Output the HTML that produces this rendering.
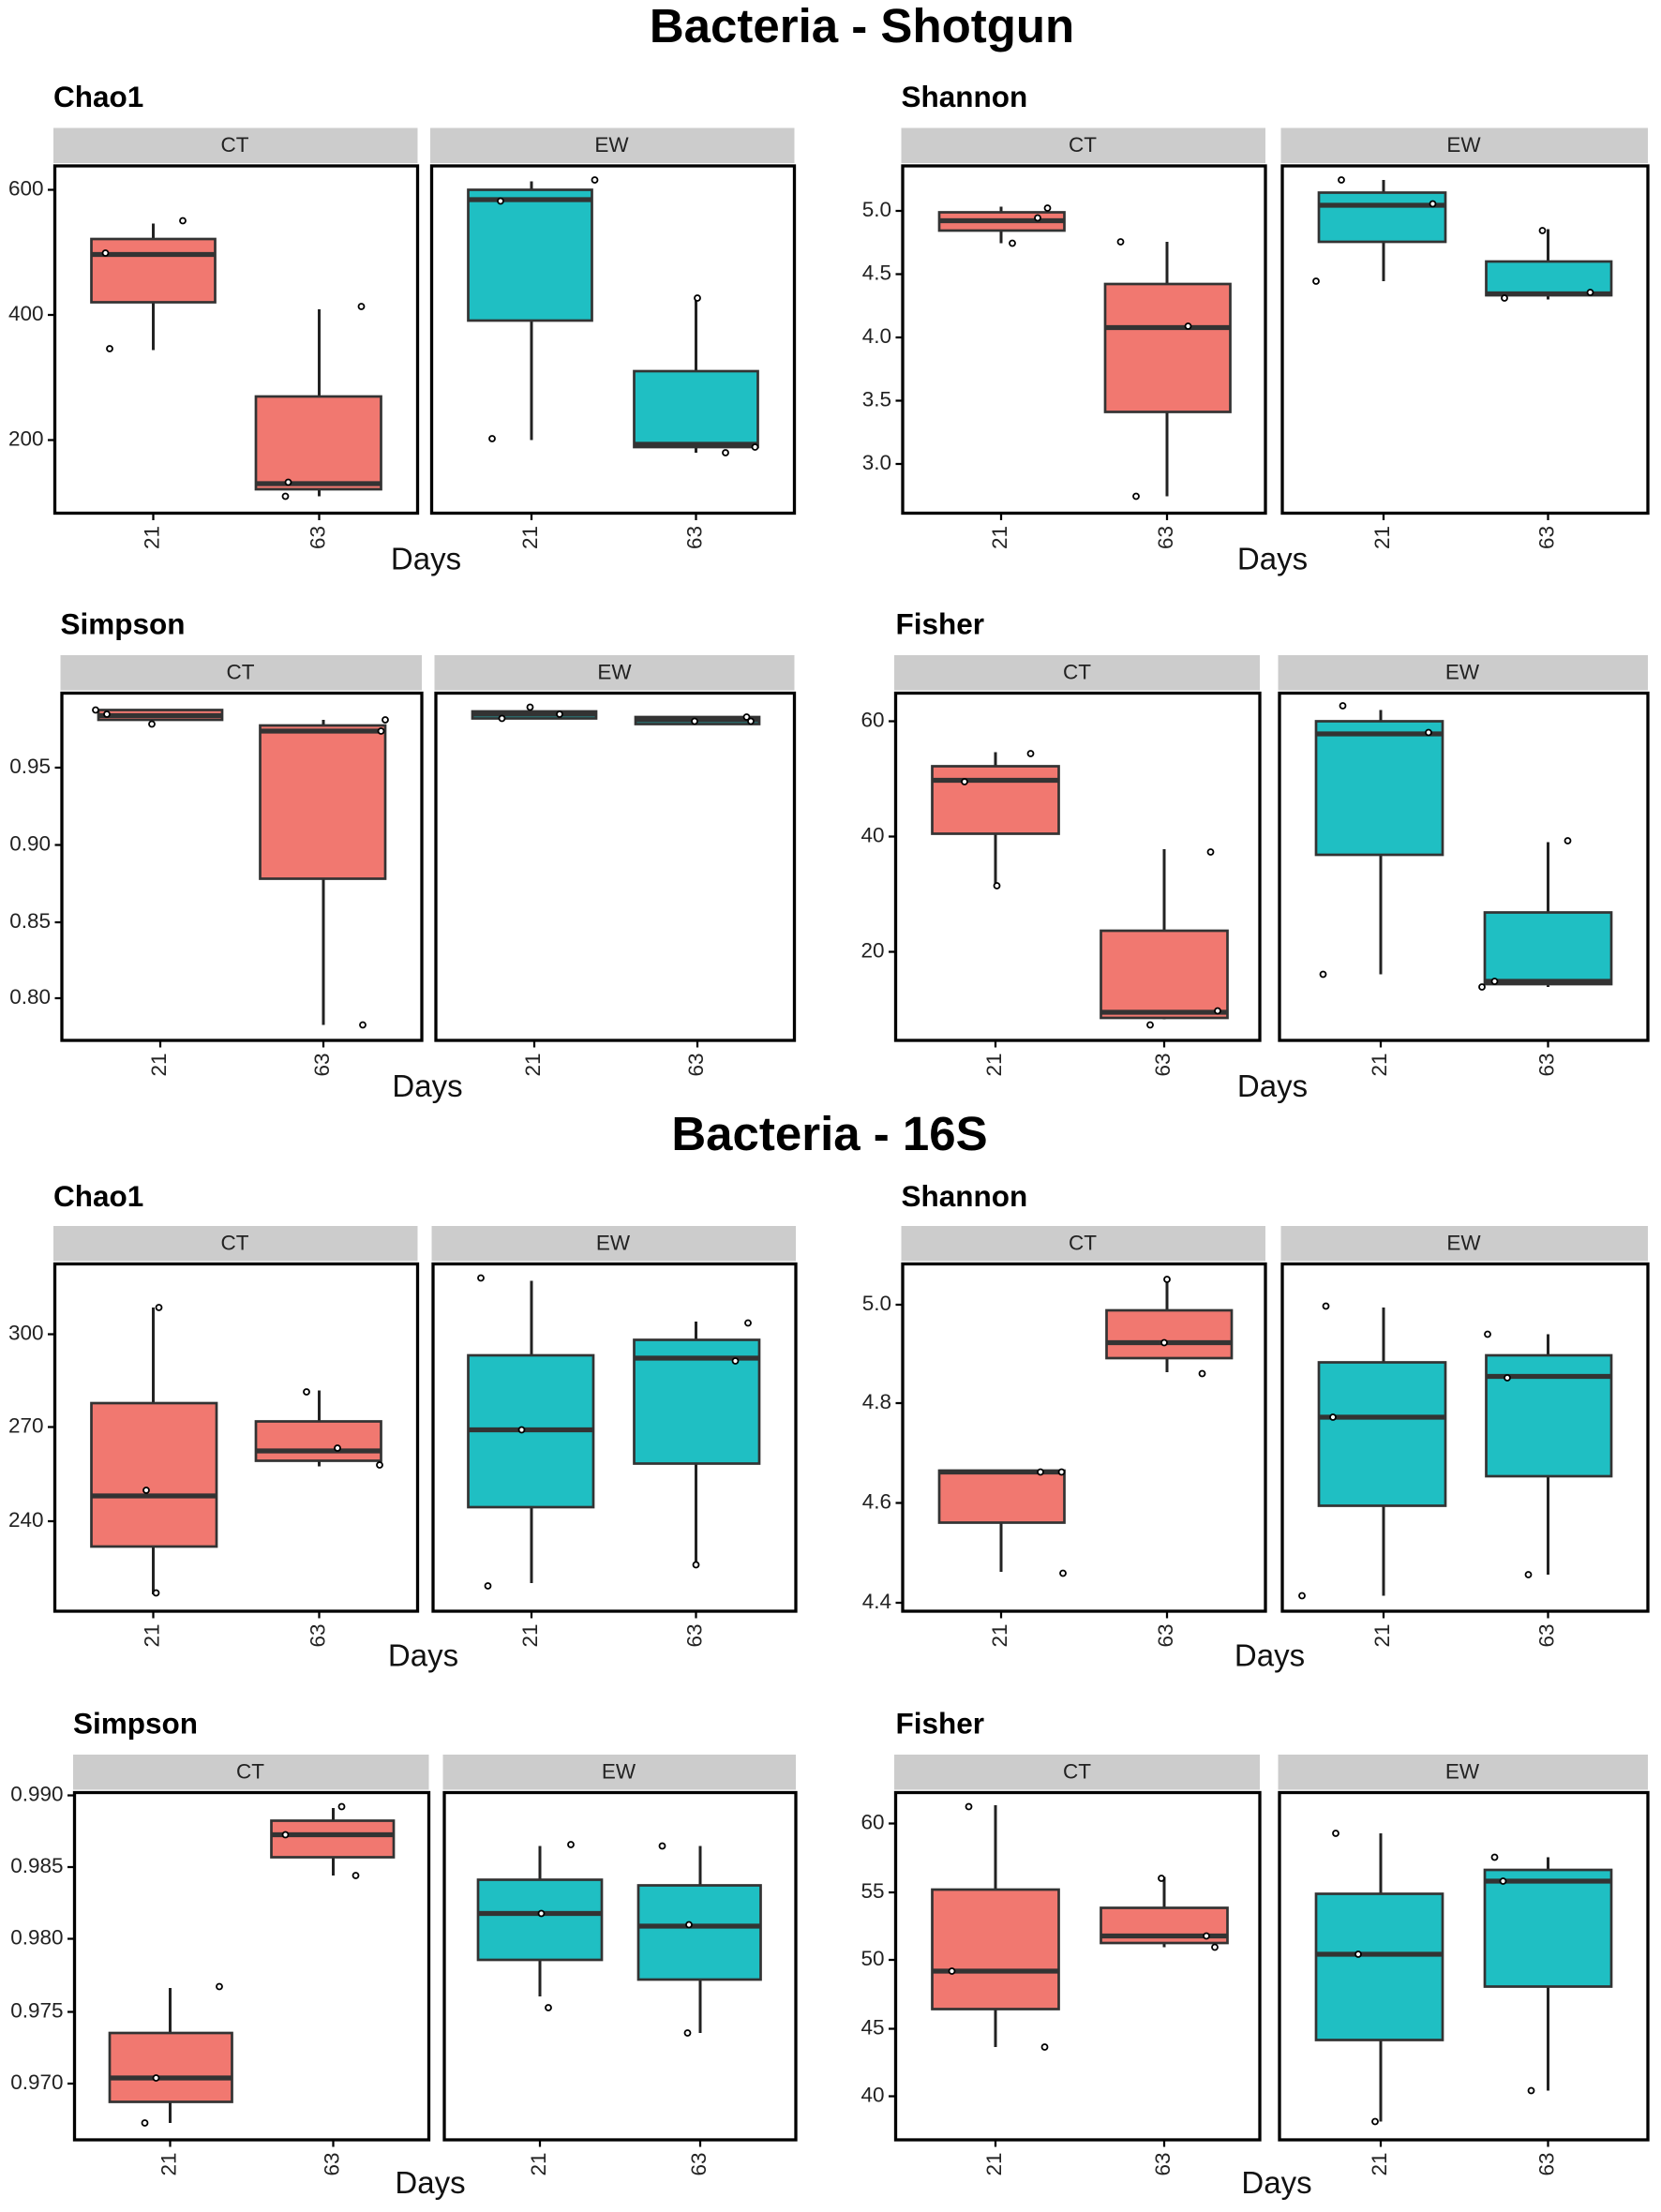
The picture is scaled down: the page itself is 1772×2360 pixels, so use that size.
<!DOCTYPE html>
<html><head><meta charset="utf-8"><style>
html,body{margin:0;padding:0;background:#fff}
svg{display:block}
text{font-family:"Liberation Sans",sans-serif}
.yl{font-size:15px;fill:#222;text-anchor:end;dominant-baseline:middle}
.xl{font-size:15px;fill:#222;text-anchor:end;dominant-baseline:middle}
.st{font-size:15px;fill:#222;text-anchor:middle;dominant-baseline:middle}
.pt{font-size:21px;font-weight:bold;fill:#000}
.dy{font-size:22px;fill:#111;text-anchor:middle}
.tt{font-size:34px;font-weight:bold;fill:#000;text-anchor:middle}
.fr{fill:none;stroke:#000;stroke-width:2.2}
.sp{fill:#cccccc}
.w{stroke:#222;stroke-width:2}
.r{fill:#F17870;stroke:#333;stroke-width:1.8}
.c{fill:#1FBFC3;stroke:#333;stroke-width:1.8}
.m{stroke:#333;stroke-width:3.5}
.p{fill:#fff;stroke:#000;stroke-width:1.2}
.tk{stroke:#000;stroke-width:1.5}
</style></head><body>
<svg width="1772" height="2360" viewBox="0 0 1181.33 1573.33" xmlns="http://www.w3.org/2000/svg">
<text class="tt" x="613" y="30">Bacteria - Shotgun</text>
<text class="tt" x="590" y="818">Bacteria - 16S</text>

<!-- ===== Shotgun Chao1 ===== -->
<text class="pt" x="38" y="76">Chao1</text>
<rect class="sp" x="38" y="91" width="259" height="25"/><text class="st" x="167" y="104">CT</text>
<rect class="sp" x="306" y="91" width="259" height="25"/><text class="st" x="435" y="104">EW</text>
<line class="w" x1="109" y1="159" x2="109" y2="249"/><rect class="r" x="65" y="170" width="88" height="45"/><line class="m" x1="65" y1="181" x2="153" y2="181"/>
<circle class="p" cx="75" cy="180" r="2"/><circle class="p" cx="130" cy="157" r="2"/><circle class="p" cx="78" cy="248" r="2"/>
<line class="w" x1="227" y1="220" x2="227" y2="353"/><rect class="r" x="182" y="282" width="89" height="66"/><line class="m" x1="182" y1="344" x2="271" y2="344"/>
<circle class="p" cx="257" cy="218" r="2"/><circle class="p" cx="205" cy="343" r="2"/><circle class="p" cx="203" cy="353" r="2"/>
<line class="w" x1="378" y1="129" x2="378" y2="313"/><rect class="c" x="333" y="135" width="88" height="93"/><line class="m" x1="333" y1="142" x2="421" y2="142"/>
<circle class="p" cx="356" cy="143" r="2"/><circle class="p" cx="423" cy="128" r="2"/><circle class="p" cx="350" cy="312" r="2"/>
<line class="w" x1="495" y1="211" x2="495" y2="322"/><rect class="c" x="451" y="264" width="88" height="54"/><line class="m" x1="451" y1="316" x2="539" y2="316"/>
<circle class="p" cx="496" cy="212" r="2"/><circle class="p" cx="516" cy="322" r="2"/><circle class="p" cx="537" cy="318" r="2"/>
<rect class="fr" x="39" y="118" width="258" height="247"/><rect class="fr" x="307" y="118" width="258" height="247"/>
<line class="tk" x1="34" y1="135" x2="39" y2="135"/><text class="yl" x="31" y="135">600</text>
<line class="tk" x1="34" y1="224" x2="39" y2="224"/><text class="yl" x="31" y="224">400</text>
<line class="tk" x1="34" y1="313" x2="39" y2="313"/><text class="yl" x="31" y="313">200</text>
<line class="tk" x1="109" y1="365" x2="109" y2="370"/><text class="xl" transform="translate(109,374) rotate(-90)">21</text>
<line class="tk" x1="227" y1="365" x2="227" y2="370"/><text class="xl" transform="translate(227,374) rotate(-90)">63</text>
<line class="tk" x1="378" y1="365" x2="378" y2="370"/><text class="xl" transform="translate(378,374) rotate(-90)">21</text>
<line class="tk" x1="495" y1="365" x2="495" y2="370"/><text class="xl" transform="translate(495,374) rotate(-90)">63</text>
<text class="dy" x="303" y="405">Days</text>

<!-- ===== Shotgun Shannon ===== -->
<text class="pt" x="641" y="76">Shannon</text>
<rect class="sp" x="641" y="91" width="259" height="25"/><text class="st" x="770" y="104">CT</text>
<rect class="sp" x="911" y="91" width="261" height="25"/><text class="st" x="1041" y="104">EW</text>
<line class="w" x1="712" y1="147" x2="712" y2="173"/><rect class="r" x="668" y="151" width="89" height="13"/><line class="m" x1="668" y1="157" x2="757" y2="157"/>
<circle class="p" cx="720" cy="173" r="2"/><circle class="p" cx="738" cy="155" r="2"/><circle class="p" cx="745" cy="148" r="2"/>
<line class="w" x1="830" y1="172" x2="830" y2="353"/><rect class="r" x="786" y="202" width="89" height="91"/><line class="m" x1="786" y1="233" x2="875" y2="233"/>
<circle class="p" cx="797" cy="172" r="2"/><circle class="p" cx="845" cy="232" r="2"/><circle class="p" cx="808" cy="353" r="2"/>
<line class="w" x1="984" y1="128" x2="984" y2="200"/><rect class="c" x="938" y="137" width="90" height="35"/><line class="m" x1="938" y1="146" x2="1028" y2="146"/>
<circle class="p" cx="936" cy="200" r="2"/><circle class="p" cx="954" cy="128" r="2"/><circle class="p" cx="1019" cy="145" r="2"/>
<line class="w" x1="1101" y1="163" x2="1101" y2="213"/><rect class="c" x="1057" y="186" width="89" height="24"/><line class="m" x1="1057" y1="209" x2="1146" y2="209"/>
<circle class="p" cx="1070" cy="212" r="2"/><circle class="p" cx="1097" cy="164" r="2"/><circle class="p" cx="1131" cy="208" r="2"/>
<rect class="fr" x="642" y="118" width="258" height="247"/><rect class="fr" x="912" y="118" width="260" height="247"/>
<line class="tk" x1="637" y1="150" x2="642" y2="150"/><text class="yl" x="634" y="150">5.0</text>
<line class="tk" x1="637" y1="195" x2="642" y2="195"/><text class="yl" x="634" y="195">4.5</text>
<line class="tk" x1="637" y1="240" x2="642" y2="240"/><text class="yl" x="634" y="240">4.0</text>
<line class="tk" x1="637" y1="285" x2="642" y2="285"/><text class="yl" x="634" y="285">3.5</text>
<line class="tk" x1="637" y1="330" x2="642" y2="330"/><text class="yl" x="634" y="330">3.0</text>
<line class="tk" x1="712" y1="365" x2="712" y2="370"/><text class="xl" transform="translate(712,374) rotate(-90)">21</text>
<line class="tk" x1="830" y1="365" x2="830" y2="370"/><text class="xl" transform="translate(830,374) rotate(-90)">63</text>
<line class="tk" x1="984" y1="365" x2="984" y2="370"/><text class="xl" transform="translate(984,374) rotate(-90)">21</text>
<line class="tk" x1="1101" y1="365" x2="1101" y2="370"/><text class="xl" transform="translate(1101,374) rotate(-90)">63</text>
<text class="dy" x="905" y="405">Days</text>

<!-- ===== Shotgun Simpson ===== -->
<text class="pt" x="43" y="451">Simpson</text>
<rect class="sp" x="43" y="466" width="257" height="25"/><text class="st" x="171" y="479">CT</text>
<rect class="sp" x="309" y="466" width="256" height="25"/><text class="st" x="437" y="479">EW</text>
<rect class="r" x="70" y="505" width="88" height="7"/><line class="m" x1="70" y1="509" x2="158" y2="509"/>
<circle class="p" cx="68" cy="505" r="2"/><circle class="p" cx="76" cy="508" r="2"/><circle class="p" cx="108" cy="515" r="2"/>
<line class="w" x1="230" y1="512" x2="230" y2="729"/><rect class="r" x="185" y="516" width="89" height="109"/><line class="m" x1="185" y1="520" x2="274" y2="520"/>
<circle class="p" cx="274" cy="512" r="2"/><circle class="p" cx="271" cy="520" r="2"/><circle class="p" cx="258" cy="729" r="2"/>
<rect class="c" x="336" y="506" width="88" height="5"/><line class="m" x1="336" y1="508" x2="424" y2="508"/>
<circle class="p" cx="357" cy="511" r="2"/><circle class="p" cx="377" cy="503" r="2"/><circle class="p" cx="398" cy="508" r="2"/>
<rect class="c" x="452" y="510" width="88" height="5"/><line class="m" x1="452" y1="512" x2="540" y2="512"/>
<circle class="p" cx="494" cy="513" r="2"/><circle class="p" cx="531" cy="510" r="2"/><circle class="p" cx="534" cy="513" r="2"/>
<rect class="fr" x="44" y="493" width="256" height="247"/><rect class="fr" x="310" y="493" width="255" height="247"/>
<line class="tk" x1="39" y1="546" x2="44" y2="546"/><text class="yl" x="36" y="546">0.95</text>
<line class="tk" x1="39" y1="601" x2="44" y2="601"/><text class="yl" x="36" y="601">0.90</text>
<line class="tk" x1="39" y1="656" x2="44" y2="656"/><text class="yl" x="36" y="656">0.85</text>
<line class="tk" x1="39" y1="710" x2="44" y2="710"/><text class="yl" x="36" y="710">0.80</text>
<line class="tk" x1="114" y1="740" x2="114" y2="745"/><text class="xl" transform="translate(114,749) rotate(-90)">21</text>
<line class="tk" x1="230" y1="740" x2="230" y2="745"/><text class="xl" transform="translate(230,749) rotate(-90)">63</text>
<line class="tk" x1="380" y1="740" x2="380" y2="745"/><text class="xl" transform="translate(380,749) rotate(-90)">21</text>
<line class="tk" x1="496" y1="740" x2="496" y2="745"/><text class="xl" transform="translate(496,749) rotate(-90)">63</text>
<text class="dy" x="304" y="780">Days</text>

<!-- ===== Shotgun Fisher ===== -->
<text class="pt" x="637" y="451">Fisher</text>
<rect class="sp" x="636" y="466" width="260" height="25"/><text class="st" x="766" y="479">CT</text>
<rect class="sp" x="909" y="466" width="263" height="25"/><text class="st" x="1040" y="479">EW</text>
<line class="w" x1="708" y1="535" x2="708" y2="630"/><rect class="r" x="663" y="545" width="90" height="48"/><line class="m" x1="663" y1="555" x2="753" y2="555"/>
<circle class="p" cx="686" cy="556" r="2"/><circle class="p" cx="709" cy="630" r="2"/><circle class="p" cx="733" cy="536" r="2"/>
<line class="w" x1="828" y1="604" x2="828" y2="725"/><rect class="r" x="783" y="662" width="90" height="62"/><line class="m" x1="783" y1="720" x2="873" y2="720"/>
<circle class="p" cx="818" cy="729" r="2"/><circle class="p" cx="861" cy="606" r="2"/><circle class="p" cx="866" cy="719" r="2"/>
<line class="w" x1="982" y1="505" x2="982" y2="693"/><rect class="c" x="936" y="513" width="90" height="95"/><line class="m" x1="936" y1="522" x2="1026" y2="522"/>
<circle class="p" cx="941" cy="693" r="2"/><circle class="p" cx="955" cy="502" r="2"/><circle class="p" cx="1016" cy="521" r="2"/>
<line class="w" x1="1101" y1="599" x2="1101" y2="702"/><rect class="c" x="1056" y="649" width="90" height="51"/><line class="m" x1="1056" y1="698" x2="1146" y2="698"/>
<circle class="p" cx="1054" cy="702" r="2"/><circle class="p" cx="1063" cy="698" r="2"/><circle class="p" cx="1115" cy="598" r="2"/>
<rect class="fr" x="637" y="493" width="259" height="247"/><rect class="fr" x="910" y="493" width="262" height="247"/>
<line class="tk" x1="632" y1="513" x2="637" y2="513"/><text class="yl" x="629" y="513">60</text>
<line class="tk" x1="632" y1="595" x2="637" y2="595"/><text class="yl" x="629" y="595">40</text>
<line class="tk" x1="632" y1="677" x2="637" y2="677"/><text class="yl" x="629" y="677">20</text>
<line class="tk" x1="708" y1="740" x2="708" y2="745"/><text class="xl" transform="translate(708,749) rotate(-90)">21</text>
<line class="tk" x1="828" y1="740" x2="828" y2="745"/><text class="xl" transform="translate(828,749) rotate(-90)">63</text>
<line class="tk" x1="982" y1="740" x2="982" y2="745"/><text class="xl" transform="translate(982,749) rotate(-90)">21</text>
<line class="tk" x1="1101" y1="740" x2="1101" y2="745"/><text class="xl" transform="translate(1101,749) rotate(-90)">63</text>
<text class="dy" x="905" y="780">Days</text>

<!-- ===== 16S Chao1 ===== -->
<text class="pt" x="38" y="858">Chao1</text>
<rect class="sp" x="38" y="872" width="259" height="25"/><text class="st" x="167" y="885">CT</text>
<rect class="sp" x="307" y="872" width="259" height="25"/><text class="st" x="436" y="885">EW</text>
<line class="w" x1="109" y1="930" x2="109" y2="1134"/><rect class="r" x="65" y="998" width="89" height="102"/><line class="m" x1="65" y1="1064" x2="154" y2="1064"/>
<circle class="p" cx="104" cy="1060" r="2"/><circle class="p" cx="113" cy="930" r="2"/><circle class="p" cx="111" cy="1133" r="2"/>
<line class="w" x1="227" y1="989" x2="227" y2="1043"/><rect class="r" x="182" y="1011" width="89" height="28"/><line class="m" x1="182" y1="1032" x2="271" y2="1032"/>
<circle class="p" cx="218" cy="990" r="2"/><circle class="p" cx="240" cy="1030" r="2"/><circle class="p" cx="270" cy="1042" r="2"/>
<line class="w" x1="378" y1="911" x2="378" y2="1126"/><rect class="c" x="333" y="964" width="89" height="108"/><line class="m" x1="333" y1="1017" x2="422" y2="1017"/>
<circle class="p" cx="342" cy="909" r="2"/><circle class="p" cx="371" cy="1017" r="2"/><circle class="p" cx="347" cy="1128" r="2"/>
<line class="w" x1="495" y1="940" x2="495" y2="1114"/><rect class="c" x="451" y="953" width="89" height="88"/><line class="m" x1="451" y1="966" x2="540" y2="966"/>
<circle class="p" cx="495" cy="1113" r="2"/><circle class="p" cx="523" cy="968" r="2"/><circle class="p" cx="532" cy="941" r="2"/>
<rect class="fr" x="39" y="899" width="258" height="247"/><rect class="fr" x="308" y="899" width="258" height="247"/>
<line class="tk" x1="34" y1="949" x2="39" y2="949"/><text class="yl" x="31" y="949">300</text>
<line class="tk" x1="34" y1="1015" x2="39" y2="1015"/><text class="yl" x="31" y="1015">270</text>
<line class="tk" x1="34" y1="1082" x2="39" y2="1082"/><text class="yl" x="31" y="1082">240</text>
<line class="tk" x1="109" y1="1146" x2="109" y2="1151"/><text class="xl" transform="translate(109,1155) rotate(-90)">21</text>
<line class="tk" x1="227" y1="1146" x2="227" y2="1151"/><text class="xl" transform="translate(227,1155) rotate(-90)">63</text>
<line class="tk" x1="378" y1="1146" x2="378" y2="1151"/><text class="xl" transform="translate(378,1155) rotate(-90)">21</text>
<line class="tk" x1="495" y1="1146" x2="495" y2="1151"/><text class="xl" transform="translate(495,1155) rotate(-90)">63</text>
<text class="dy" x="301" y="1185">Days</text>

<!-- ===== 16S Shannon ===== -->
<text class="pt" x="641" y="858">Shannon</text>
<rect class="sp" x="641" y="872" width="259" height="25"/><text class="st" x="770" y="885">CT</text>
<rect class="sp" x="911" y="872" width="261" height="25"/><text class="st" x="1041" y="885">EW</text>
<line class="w" x1="712" y1="1046" x2="712" y2="1118"/><rect class="r" x="668" y="1046" width="89" height="37"/><line class="m" x1="668" y1="1047" x2="757" y2="1047"/>
<circle class="p" cx="740" cy="1047" r="2"/><circle class="p" cx="755" cy="1047" r="2"/><circle class="p" cx="756" cy="1119" r="2"/>
<line class="w" x1="830" y1="910" x2="830" y2="976"/><rect class="r" x="787" y="932" width="89" height="34"/><line class="m" x1="787" y1="955" x2="876" y2="955"/>
<circle class="p" cx="830" cy="910" r="2"/><circle class="p" cx="828" cy="955" r="2"/><circle class="p" cx="855" cy="977" r="2"/>
<line class="w" x1="984" y1="930" x2="984" y2="1135"/><rect class="c" x="938" y="969" width="90" height="102"/><line class="m" x1="938" y1="1008" x2="1028" y2="1008"/>
<circle class="p" cx="926" cy="1135" r="2"/><circle class="p" cx="943" cy="929" r="2"/><circle class="p" cx="948" cy="1008" r="2"/>
<line class="w" x1="1101" y1="949" x2="1101" y2="1120"/><rect class="c" x="1057" y="964" width="89" height="86"/><line class="m" x1="1057" y1="979" x2="1146" y2="979"/>
<circle class="p" cx="1058" cy="949" r="2"/><circle class="p" cx="1072" cy="980" r="2"/><circle class="p" cx="1087" cy="1120" r="2"/>
<rect class="fr" x="642" y="899" width="258" height="247"/><rect class="fr" x="912" y="899" width="260" height="247"/>
<line class="tk" x1="637" y1="928" x2="642" y2="928"/><text class="yl" x="634" y="928">5.0</text>
<line class="tk" x1="637" y1="998" x2="642" y2="998"/><text class="yl" x="634" y="998">4.8</text>
<line class="tk" x1="637" y1="1069" x2="642" y2="1069"/><text class="yl" x="634" y="1069">4.6</text>
<line class="tk" x1="637" y1="1140" x2="642" y2="1140"/><text class="yl" x="634" y="1140">4.4</text>
<line class="tk" x1="712" y1="1146" x2="712" y2="1151"/><text class="xl" transform="translate(712,1155) rotate(-90)">21</text>
<line class="tk" x1="830" y1="1146" x2="830" y2="1151"/><text class="xl" transform="translate(830,1155) rotate(-90)">63</text>
<line class="tk" x1="984" y1="1146" x2="984" y2="1151"/><text class="xl" transform="translate(984,1155) rotate(-90)">21</text>
<line class="tk" x1="1101" y1="1146" x2="1101" y2="1151"/><text class="xl" transform="translate(1101,1155) rotate(-90)">63</text>
<text class="dy" x="903" y="1185">Days</text>

<!-- ===== 16S Simpson ===== -->
<text class="pt" x="52" y="1233">Simpson</text>
<rect class="sp" x="52" y="1248" width="253" height="25"/><text class="st" x="178" y="1261">CT</text>
<rect class="sp" x="315" y="1248" width="251" height="25"/><text class="st" x="440" y="1261">EW</text>
<line class="w" x1="121" y1="1414" x2="121" y2="1510"/><rect class="r" x="78" y="1446" width="87" height="49"/><line class="m" x1="78" y1="1478" x2="165" y2="1478"/>
<circle class="p" cx="103" cy="1510" r="2"/><circle class="p" cx="111" cy="1478" r="2"/><circle class="p" cx="156" cy="1413" r="2"/>
<line class="w" x1="237" y1="1286" x2="237" y2="1334"/><rect class="r" x="193" y="1295" width="87" height="26"/><line class="m" x1="193" y1="1305" x2="280" y2="1305"/>
<circle class="p" cx="203" cy="1305" r="2"/><circle class="p" cx="243" cy="1285" r="2"/><circle class="p" cx="253" cy="1334" r="2"/>
<line class="w" x1="384" y1="1313" x2="384" y2="1420"/><rect class="c" x="340" y="1337" width="88" height="57"/><line class="m" x1="340" y1="1361" x2="428" y2="1361"/>
<circle class="p" cx="385" cy="1361" r="2"/><circle class="p" cx="390" cy="1428" r="2"/><circle class="p" cx="406" cy="1312" r="2"/>
<line class="w" x1="498" y1="1313" x2="498" y2="1446"/><rect class="c" x="454" y="1341" width="87" height="67"/><line class="m" x1="454" y1="1370" x2="541" y2="1370"/>
<circle class="p" cx="471" cy="1313" r="2"/><circle class="p" cx="490" cy="1369" r="2"/><circle class="p" cx="489" cy="1446" r="2"/>
<rect class="fr" x="53" y="1275" width="252" height="247"/><rect class="fr" x="316" y="1275" width="250" height="247"/>
<line class="tk" x1="48" y1="1277" x2="53" y2="1277"/><text class="yl" x="45" y="1277">0.990</text>
<line class="tk" x1="48" y1="1328" x2="53" y2="1328"/><text class="yl" x="45" y="1328">0.985</text>
<line class="tk" x1="48" y1="1379" x2="53" y2="1379"/><text class="yl" x="45" y="1379">0.980</text>
<line class="tk" x1="48" y1="1431" x2="53" y2="1431"/><text class="yl" x="45" y="1431">0.975</text>
<line class="tk" x1="48" y1="1482" x2="53" y2="1482"/><text class="yl" x="45" y="1482">0.970</text>
<line class="tk" x1="121" y1="1522" x2="121" y2="1527"/><text class="xl" transform="translate(121,1531) rotate(-90)">21</text>
<line class="tk" x1="237" y1="1522" x2="237" y2="1527"/><text class="xl" transform="translate(237,1531) rotate(-90)">63</text>
<line class="tk" x1="384" y1="1522" x2="384" y2="1527"/><text class="xl" transform="translate(384,1531) rotate(-90)">21</text>
<line class="tk" x1="498" y1="1522" x2="498" y2="1527"/><text class="xl" transform="translate(498,1531) rotate(-90)">63</text>
<text class="dy" x="306" y="1560">Days</text>

<!-- ===== 16S Fisher ===== -->
<text class="pt" x="637" y="1233">Fisher</text>
<rect class="sp" x="636" y="1248" width="260" height="25"/><text class="st" x="766" y="1261">CT</text>
<rect class="sp" x="909" y="1248" width="263" height="25"/><text class="st" x="1040" y="1261">EW</text>
<line class="w" x1="708" y1="1284" x2="708" y2="1456"/><rect class="r" x="663" y="1344" width="90" height="85"/><line class="m" x1="663" y1="1402" x2="753" y2="1402"/>
<circle class="p" cx="677" cy="1402" r="2"/><circle class="p" cx="689" cy="1285" r="2"/><circle class="p" cx="743" cy="1456" r="2"/>
<line class="w" x1="828" y1="1335" x2="828" y2="1385"/><rect class="r" x="783" y="1357" width="90" height="25"/><line class="m" x1="783" y1="1377" x2="873" y2="1377"/>
<circle class="p" cx="826" cy="1336" r="2"/><circle class="p" cx="858" cy="1377" r="2"/><circle class="p" cx="864" cy="1385" r="2"/>
<line class="w" x1="982" y1="1304" x2="982" y2="1509"/><rect class="c" x="936" y="1347" width="90" height="104"/><line class="m" x1="936" y1="1390" x2="1026" y2="1390"/>
<circle class="p" cx="950" cy="1304" r="2"/><circle class="p" cx="966" cy="1390" r="2"/><circle class="p" cx="978" cy="1509" r="2"/>
<line class="w" x1="1101" y1="1321" x2="1101" y2="1487"/><rect class="c" x="1056" y="1330" width="90" height="83"/><line class="m" x1="1056" y1="1338" x2="1146" y2="1338"/>
<circle class="p" cx="1063" cy="1321" r="2"/><circle class="p" cx="1069" cy="1338" r="2"/><circle class="p" cx="1089" cy="1487" r="2"/>
<rect class="fr" x="637" y="1275" width="259" height="247"/><rect class="fr" x="910" y="1275" width="262" height="247"/>
<line class="tk" x1="632" y1="1297" x2="637" y2="1297"/><text class="yl" x="629" y="1297">60</text>
<line class="tk" x1="632" y1="1346" x2="637" y2="1346"/><text class="yl" x="629" y="1346">55</text>
<line class="tk" x1="632" y1="1394" x2="637" y2="1394"/><text class="yl" x="629" y="1394">50</text>
<line class="tk" x1="632" y1="1443" x2="637" y2="1443"/><text class="yl" x="629" y="1443">45</text>
<line class="tk" x1="632" y1="1491" x2="637" y2="1491"/><text class="yl" x="629" y="1491">40</text>
<line class="tk" x1="708" y1="1522" x2="708" y2="1527"/><text class="xl" transform="translate(708,1531) rotate(-90)">21</text>
<line class="tk" x1="828" y1="1522" x2="828" y2="1527"/><text class="xl" transform="translate(828,1531) rotate(-90)">63</text>
<line class="tk" x1="982" y1="1522" x2="982" y2="1527"/><text class="xl" transform="translate(982,1531) rotate(-90)">21</text>
<line class="tk" x1="1101" y1="1522" x2="1101" y2="1527"/><text class="xl" transform="translate(1101,1531) rotate(-90)">63</text>
<text class="dy" x="908" y="1560">Days</text>
</svg>
</body></html>
